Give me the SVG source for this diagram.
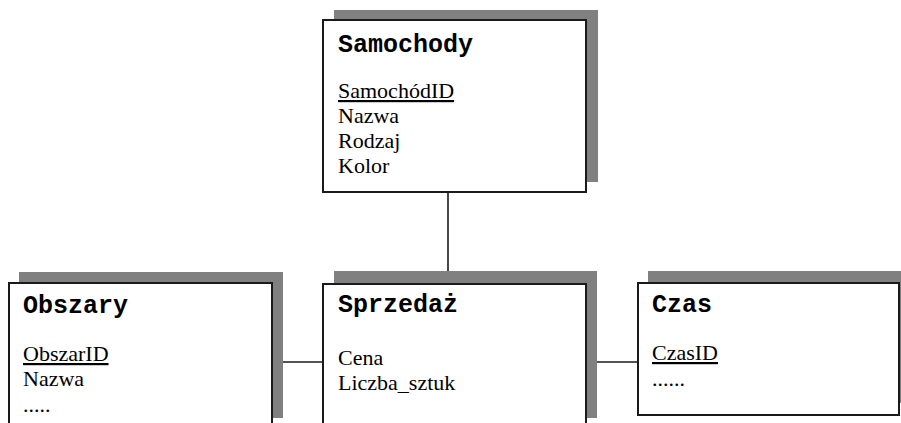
<svg xmlns="http://www.w3.org/2000/svg" width="901" height="423" viewBox="0 0 901 423">
  <style>
    .shadow { fill: #808080; }
    .box { fill: #ffffff; stroke: #1a1a1a; stroke-width: 2; }
    .title { font-family: "Liberation Mono", "Courier New", monospace; font-weight: bold; font-size: 25px; fill: #000; }
    .attr { font-family: "Liberation Serif", "Times New Roman", serif; font-size: 22px; fill: #000; }
    .key { text-decoration: underline; }
    .link { stroke: #1a1a1a; stroke-width: 1.6; fill: none; }
  </style>
  <rect width="901" height="423" fill="#ffffff"/>

  <g id="connectors">
    <line class="link" x1="448" y1="192" x2="448" y2="284"/>
    <line class="link" x1="272" y1="362" x2="323" y2="362"/>
    <line class="link" x1="586" y1="362" x2="638" y2="362"/>
  </g>

  <g id="samochody">
    <rect class="shadow" x="334" y="10" width="264" height="172"/>
    <rect class="box" x="323" y="20" width="263" height="172"/>
    <text class="title" x="338" y="52">Samochody</text>
    <text class="attr key" x="338" y="98">SamochódID</text>
    <text class="attr" x="338" y="123">Nazwa</text>
    <text class="attr" x="338" y="148">Rodzaj</text>
    <text class="attr" x="338" y="173">Kolor</text>
  </g>

  <g id="obszary">
    <rect class="shadow" x="19" y="272" width="264" height="146"/>
    <rect class="box" x="9" y="283" width="263" height="160"/>
    <text class="title" x="23" y="313">Obszary</text>
    <text class="attr key" x="23" y="361">ObszarID</text>
    <text class="attr" x="23" y="386">Nazwa</text>
    <text class="attr" x="23" y="412">.....</text>
  </g>

  <g id="sprzedaz">
    <rect class="shadow" x="334" y="271" width="263" height="147"/>
    <rect class="box" x="323" y="284" width="263" height="160"/>
    <text class="title" x="338" y="312">Sprzedaż</text>
    <text class="attr" x="338" y="365">Cena</text>
    <text class="attr" x="338" y="390">Liczba_sztuk</text>
  </g>

  <g id="czas">
    <rect class="shadow" x="648" y="271" width="270" height="132"/>
    <rect class="box" x="638" y="283" width="261" height="132"/>
    <text class="title" x="652" y="312">Czas</text>
    <text class="attr key" x="652" y="360">CzasID</text>
    <text class="attr" x="652" y="386">......</text>
  </g>
</svg>
